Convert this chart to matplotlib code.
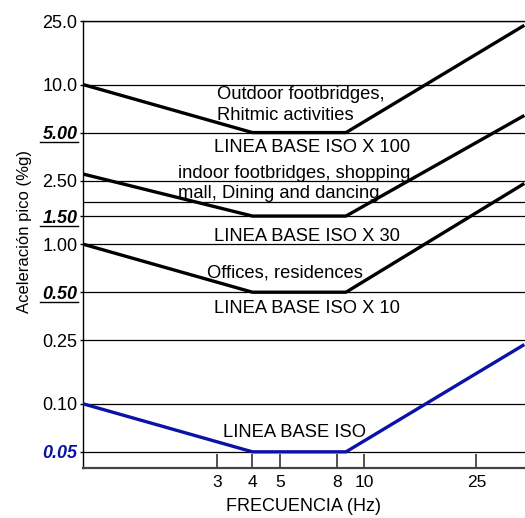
import matplotlib
matplotlib.use("Agg")
import matplotlib.pyplot as plt
from matplotlib.lines import Line2D
from matplotlib.ticker import NullLocator, FixedLocator, FixedFormatter

plt.rcParams['font.family'] = ['Liberation Sans', 'DejaVu Sans']

# curve break points (Hz) and peak acceleration (%g)
freq_pts = [1.0, 4.0, 8.6, 37.0]
iso_base = [0.10, 0.05, 0.05, 0.235]
iso_x10 = [1.0, 0.5, 0.5, 2.4]
iso_x30 = [2.75, 1.5, 1.5, 6.4]
iso_x100 = [10.0, 5.0, 5.0, 23.5]

grid_levels = [25.0, 10.0, 5.0, 2.5, 1.85, 1.5, 1.0, 0.5, 0.25, 0.1, 0.05]
ytick_vals = [25.0, 10.0, 5.0, 2.5, 1.5, 1.0, 0.5, 0.25, 0.1, 0.05]
ytick_labels = ['25.0', '10.0', '5.00', '2.50', '1.50', '1.00', '0.50', '0.25', '0.10', '0.05']
xtick_vals = [3, 4, 5, 8, 10, 25]
xtick_labels = ['3', '4', '5', '8', '10', '25']

BLUE = '#0b12a8'

fig = plt.figure(figsize=(5.25, 5.18), dpi=100)
ax = fig.add_axes([83 / 525, 50 / 518, 442 / 525, 447 / 518])
ax.set_xscale('log')
ax.set_yscale('log')
ax.set_xlim(1.0, 37.2)
ax.set_ylim(0.0396, 25.0)

for lvl in grid_levels:
    ax.axhline(lvl, color='black', lw=0.9, zorder=1)

for vals in (iso_x100, iso_x30, iso_x10):
    ax.plot(freq_pts, vals, color='black', lw=2.4, solid_capstyle='butt', zorder=3)
ax.plot(freq_pts, iso_base, color=BLUE, lw=2.4, solid_capstyle='butt', zorder=3)

# axes cosmetics
ax.spines['right'].set_visible(False)
ax.spines['top'].set_linewidth(1.0)
ax.spines['left'].set_linewidth(1.0)
ax.spines['bottom'].set_color('#444444')
ax.spines['bottom'].set_linewidth(1.6)

ax.xaxis.set_major_locator(FixedLocator(xtick_vals))
ax.xaxis.set_major_formatter(FixedFormatter(xtick_labels))
ax.xaxis.set_minor_locator(NullLocator())
ax.yaxis.set_major_locator(FixedLocator(ytick_vals))
ax.yaxis.set_major_formatter(FixedFormatter(ytick_labels))
ax.yaxis.set_minor_locator(NullLocator())
ax.tick_params(axis='x', direction='in', length=10, width=1.2, color='#333333',
               pad=5, labelsize=12.5)
ax.tick_params(axis='y', direction='out', length=2, width=1.0, pad=2, labelsize=13)

special = {'5.00': 'black', '1.50': 'black', '0.50': 'black', '0.05': BLUE}
for lab in ax.get_yticklabels():
    if lab.get_text() in special:
        lab.set_fontweight('bold')
        lab.set_fontstyle('italic')
        lab.set_color(special[lab.get_text()])

ax.text(-0.133, 0.53, 'Aceleración pico (%g)', transform=ax.transAxes,
        rotation=90, ha='center', va='center', fontsize=12)
ax.text(0.498, -0.087, 'FRECUENCIA (Hz)', transform=ax.transAxes,
        ha='center', va='center', fontsize=13)


def px(x, y):
    # pixel position in the 525x518 picture -> axes fraction
    return (x - 83) / 442, (468 - y) / 447


notes = [
    (217, 99, 'Outdoor footbridges,'),
    (217, 120, 'Rhitmic activities'),
    (214, 152, 'LINEA BASE ISO X 100'),
    (178, 178, 'indoor footbridges, shopping'),
    (178, 198, 'mall, Dining and dancing'),
    (214, 241, 'LINEA BASE ISO X 30'),
    (207, 277, 'Offices, residences'),
    (214, 313, 'LINEA BASE ISO X 10'),
    (223, 437, 'LINEA BASE ISO'),
]
for x, y, s in notes:
    fx, fy = px(x, y)
    ax.text(fx, fy, s, transform=ax.transAxes, ha='left', va='baseline',
            fontsize=13.2, zorder=4)

# underline the highlighted black tick labels
fig.canvas.draw()
renderer = fig.canvas.get_renderer()
for lab in ax.get_yticklabels():
    if lab.get_text() in ('5.00', '1.50', '0.50'):
        bb = lab.get_window_extent(renderer).transformed(fig.transFigure.inverted())
        fig.add_artist(Line2D([bb.x0 - 0.004, bb.x1 + 0.002], [bb.y0 + 0.002] * 2,
                              transform=fig.transFigure, color='black', lw=1.0))

fig.savefig('out.png', dpi=100)
